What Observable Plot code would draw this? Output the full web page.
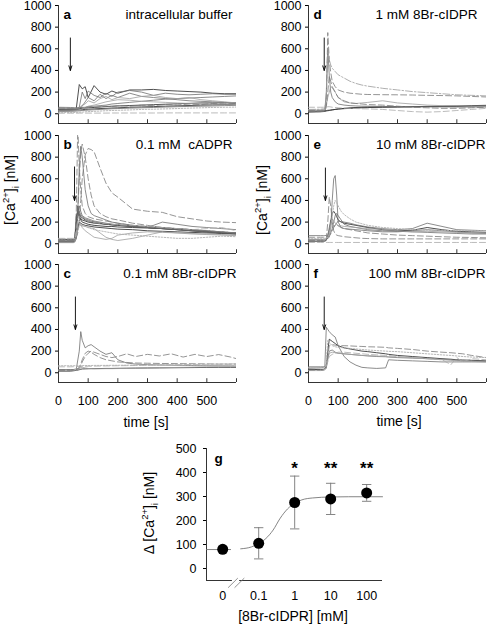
<!DOCTYPE html>
<html><head><meta charset="utf-8">
<script src="https://cdn.jsdelivr.net/npm/d3@7"></script>
<script src="https://cdn.jsdelivr.net/npm/@observablehq/plot@0.6"></script>
<style>
body{margin:0;background:#fff;}
#root{position:relative;width:488px;height:624px;font-family:"Liberation Sans",Arial,sans-serif;font-size:14px;color:#000;overflow:hidden;background:#fff}
.panel{position:absolute}
.lbl{position:absolute;white-space:nowrap;line-height:1;transform:translate(-50%,-50%)}
.rot{transform:translate(-50%,-50%) rotate(-90deg)}
sup,sub{font-size:9.5px;line-height:0}
</style></head><body><div id="root"></div><script>
// ---------- data: Ca2+ traces ----------
const timeTicks = [100,200,300,400,500,600];
const timeLabels = [0,100,200,300,400,500];
const caTicks = [0,200,400,600,800,1000];
const panelLetters = ["a","b","c","d","e","f"];
const panelTitles = ["intracellular buffer","0.1 mM  cADPR","0.1 mM 8Br-cIDPR","1 mM 8Br-cIDPR","10 mM 8Br-cIDPR","100 mM 8Br-cIDPR"];
const arrowTimes = [40,54,57,53,57,53];
const arrowTop = [700,710,700,700,700,700];
const arrowTip = [400,400,400,400,400,400];

// panel a
const tA = [0,40,60,70,80,90,100,120,140,160,180,200,240,280,320,360,400,440,480,520,560,600];
const a1 = [45,45,50,270,230,250,150,260,200,180,210,190,220,220,225,215,210,205,200,190,185,185];
const a2 = [35,38,40,60,200,140,210,170,150,190,160,200,215,200,170,190,180,175,180,185,180,180];
const a3 = [30,30,35,45,70,110,150,120,180,140,170,150,190,160,150,140,130,120,115,110,105,100];
const a4 = [50,48,50,55,80,90,120,100,140,160,130,150,140,160,170,150,140,150,130,120,110,100];
const a5 = [40,42,45,47,50,52,55,58,62,66,70,72,76,80,84,88,92,96,100,100,100,100];
const a6 = [30,32,34,36,38,40,42,45,48,50,53,55,60,63,66,70,73,76,80,82,85,88];
const a7 = [20,22,25,27,30,32,34,37,40,43,46,48,52,55,58,62,65,68,70,72,75,78];
const a8 = [55,50,52,55,60,58,62,60,65,70,65,75,70,80,75,85,80,90,85,95,90,95];
const a9 = [5,5,5,6,6,6,6,6,6,6,7,7,7,7,7,8,8,8,8,8,8,8];
const a10 = [25,25,28,35,45,55,70,80,95,110,120,130,125,115,110,105,100,95,90,90,85,85];
const a11 = [10,12,12,15,15,18,20,22,25,28,30,32,35,40,42,45,48,52,55,58,60,62];
const a12 = [60,58,55,55,58,60,65,70,75,80,90,95,105,115,125,135,140,145,150,155,160,165];

// panel b
const tB = [0,40,50,55,60,65,70,75,80,90,100,110,120,140,160,180,200,250,300,350,400,450,500,550,600];
const b1 = [30,30,30,40,300,1100,700,500,350,280,250,240,230,220,210,200,190,170,160,150,140,130,120,110,100];
const b2 = [25,25,25,30,100,300,600,850,920,800,600,450,350,280,250,230,220,190,170,150,140,130,120,110,100];
const b3 = [40,40,40,40,60,100,200,400,600,820,880,870,850,700,560,470,430,320,300,290,250,230,210,200,195];
const b4 = [20,20,20,25,80,300,700,900,800,500,350,280,260,240,220,200,190,170,150,140,130,120,110,100,95];
const b5 = [30,30,30,35,150,350,280,250,240,220,210,200,200,190,180,175,170,160,150,140,130,120,110,100,90];
const b6 = [40,40,40,45,200,300,260,230,220,210,200,195,190,185,180,175,170,160,150,140,135,125,115,105,100];
const b7 = [20,20,20,25,100,250,300,270,250,230,220,210,200,190,185,180,175,165,155,145,140,130,120,110,100];
const b8 = [10,10,10,15,60,200,220,180,150,120,100,80,60,50,40,50,80,100,110,105,100,95,90,85,80];
const b9 = [50,50,50,55,120,230,250,240,230,220,210,200,195,190,185,180,175,170,160,150,140,130,140,150,120];
const b10 = [15,15,15,20,50,150,200,190,180,170,165,160,155,150,145,140,135,130,120,115,110,105,100,95,90];
const b11 = [30,30,30,35,100,200,180,170,165,160,150,145,140,100,60,40,30,50,80,110,100,90,85,80,75];
const b12 = [35,35,35,40,250,300,250,220,200,190,180,175,170,165,160,160,155,150,145,140,130,120,110,100,95];
const b13 = [45,45,45,50,80,120,160,180,170,160,150,140,130,120,110,100,90,80,70,60,50,50,60,70,65];
const b14 = [20,20,20,25,60,250,350,300,260,240,230,220,210,200,190,180,175,160,150,200,180,160,150,140,130];

// panel c
const tC = [0,40,50,60,70,75,80,90,100,110,120,140,160,180,200,230,260,300,340,380,420,460,500,540,580,600];
const c1 = [30,30,30,35,200,380,300,230,250,260,240,200,170,185,120,90,80,75,72,70,68,66,65,64,63,62];
const c2 = [25,25,25,30,40,60,100,150,180,200,190,170,150,140,150,175,150,170,155,175,145,170,150,168,145,130];
const c3 = [25,25,28,30,50,80,120,180,200,190,170,140,120,110,100,95,90,88,86,85,84,83,82,80,80,80];
const c4 = [65,65,65,65,66,66,66,67,67,67,68,68,68,69,69,70,70,70,70,70,70,70,70,70,70,70];
const c5 = [15,15,18,22,28,32,35,36,37,38,38,39,40,40,41,42,43,44,45,46,47,48,49,50,50,50];
const c6 = [20,20,22,25,35,45,50,45,40,38,37,37,38,38,39,40,42,44,46,48,50,52,54,55,56,56];
const c7 = [55,55,56,57,58,58,58,59,60,60,61,62,63,64,65,66,67,69,71,73,75,77,79,81,82,83];

// panel d
const tD = [0,40,50,55,60,65,70,75,80,90,100,120,140,160,180,200,250,300,350,400,450,500,550,600];
const d1 = [30,32,35,40,100,750,500,380,300,250,220,200,190,185,180,178,176,175,173,170,168,165,160,155];
const d2 = [40,42,45,50,150,600,500,450,420,390,360,330,300,280,265,255,235,220,205,195,185,175,170,165];
const d3 = [25,25,28,30,200,600,350,200,150,110,90,80,75,72,70,70,68,66,65,64,63,62,62,62];
const d4 = [20,20,22,25,60,200,350,300,250,200,150,120,100,95,90,85,80,70,60,55,50,50,55,60];
const d5 = [35,35,35,40,80,150,200,250,240,200,150,110,100,95,100,105,120,100,90,80,75,75,70,70];
const d6 = [15,18,20,22,25,28,30,32,35,40,45,50,55,58,60,62,63,64,65,66,67,68,70,72];
const d7 = [25,25,27,28,30,32,33,35,37,40,43,47,50,53,55,57,60,62,65,68,70,72,75,78];
const d8 = [60,60,60,60,62,65,65,63,60,58,55,52,50,48,46,45,40,30,20,15,20,30,40,50];

// panel e
const tE = [0,40,50,55,60,65,70,75,80,85,90,95,100,110,120,140,160,180,200,250,300,350,400,450,500,550,600];
const e1 = [40,40,40,42,45,50,60,150,400,600,630,450,200,150,140,135,130,125,120,110,110,120,130,120,110,100,95];
const e2 = [30,30,30,32,40,200,430,350,200,120,90,80,75,70,65,60,55,50,48,45,45,45,45,45,45,45,45];
const e3 = [50,50,50,52,55,60,80,150,250,350,400,380,350,300,270,230,200,185,170,150,140,130,125,125,120,120,120];
const e4 = [25,25,25,28,35,60,120,200,280,300,280,250,220,200,190,180,170,160,150,130,120,125,150,130,115,110,105];
const e5 = [20,20,20,22,30,80,150,220,180,160,170,190,210,205,200,190,175,165,155,140,130,140,190,160,130,125,120];
const e6 = [35,35,35,38,45,60,100,180,230,210,190,180,170,165,160,155,150,145,140,135,120,110,115,110,105,100,100];
const e7 = [12,12,12,12,12,12,12,12,12,12,12,12,12,12,12,12,12,12,12,12,12,12,12,12,12,12,12];
const e8 = [75,75,75,75,78,80,82,100,140,200,260,280,260,220,180,160,150,140,130,120,115,110,105,100,95,90,90];
const e9 = [60,60,60,60,62,64,70,90,120,150,170,175,165,150,140,130,120,110,100,90,80,75,70,65,60,58,55];

// panel f
const tF = [0,40,50,55,60,65,70,80,90,100,120,140,160,180,200,230,260,270,300,350,400,450,480,500,520,550,600];
const f1 = [40,45,50,55,420,400,380,350,330,250,150,100,70,50,45,40,45,120,115,110,105,100,100,100,100,100,100];
const f2 = [30,30,32,35,60,200,310,290,270,250,230,220,210,200,195,185,175,170,160,150,140,130,125,120,118,115,110];
const f3 = [25,25,25,28,40,150,250,260,255,250,250,248,245,243,240,238,235,230,225,215,200,190,185,180,175,160,140];
const f4 = [50,50,50,52,100,300,280,250,240,235,230,225,220,215,210,205,200,198,195,185,175,165,160,155,150,145,140];
const f5 = [20,20,22,25,50,120,180,190,185,180,175,170,165,160,158,155,150,148,145,140,130,120,115,110,110,105,100];
const f6 = [45,45,45,48,60,100,150,170,180,190,190,185,180,175,170,165,160,160,150,140,130,120,75,140,100,130,120];
const f7 = [55,55,55,58,70,130,200,210,190,180,175,170,165,160,155,150,148,145,140,135,130,125,120,115,110,110,105];

// ---------- data: dose response (g) ----------
const gLabels = ["0","0.1","1","10","100"];
const gMean = [80,105,275,290,315];
const gLow = [70,40,165,225,280];
const gHigh = [90,170,385,355,350];
const gStars = ["","","*","**","**"];
const gStarLevel = [430,430,430,430,430];
const fitLeftPos = [-0.45,0.22];
const fitLeftVal = [79,79];
const fitRightPos = [0.5,0.8,1.0,1.2,1.4,1.6,1.8,2.0,2.2,2.5,3.0,3.5,4.44];
const fitRightVal = [82,90,104,125,160,210,248,272,286,294,298,299,299];

// ---------- styles (kept apart from data) ----------
const lineStyles = {
  dark: {stroke:"#3a3a3a", strokeWidth:0.9},
  mid: {stroke:"#6e6e6e", strokeWidth:0.8},
  light: {stroke:"#a0a0a0", strokeWidth:0.8},
  dash: {stroke:"#7a7a7a", strokeWidth:0.8, strokeDasharray:"6,3"},
  dashLight: {stroke:"#aaaaaa", strokeWidth:0.8, strokeDasharray:"6,3"},
  dot: {stroke:"#b0b0b0", strokeWidth:0.9, strokeDasharray:"1.5,1.5"},
  dashDot: {stroke:"#9a9a9a", strokeWidth:0.8, strokeDasharray:"7,2,1.5,2"}
};
const traceStyle = {
  a1:"dark",a2:"mid",a3:"mid",a4:"light",a5:"dark",a6:"dark",a7:"mid",a8:"dash",a9:"dashLight",a10:"light",a11:"dot",a12:"mid",
  b1:"dash",b2:"dash",b3:"dash",b4:"mid",b5:"dark",b6:"dark",b7:"mid",b8:"light",b9:"dashLight",b10:"dark",b11:"light",b12:"dark",b13:"dot",b14:"mid",
  c1:"mid",c2:"dash",c3:"dash",c4:"dot",c5:"dark",c6:"light",c7:"dashLight",
  d1:"dash",d2:"dashDot",d3:"mid",d4:"dash",d5:"light",d6:"dark",d7:"dark",d8:"dashLight",
  e1:"mid",e2:"dash",e3:"dot",e4:"dark",e5:"mid",e6:"light",e7:"dashLight",e8:"mid",e9:"dash",
  f1:"mid",f2:"dark",f3:"dash",f4:"dot",f5:"light",f6:"dashLight",f7:"mid"
};
const TICK_PX = 12.5, TITLE_PX = 13.5, STAR_PX = 17;

const panels = [
  {t:tA, series:{a1,a2,a3,a4,a5,a6,a7,a8,a9,a10,a11,a12}},
  {t:tB, series:{b1,b2,b3,b4,b5,b6,b7,b8,b9,b10,b11,b12,b13,b14}},
  {t:tC, series:{c1,c2,c3,c4,c5,c6,c7}},
  {t:tD, series:{d1,d2,d3,d4,d5,d6,d7,d8}},
  {t:tE, series:{e1,e2,e3,e4,e5,e6,e7,e8,e9}},
  {t:tF, series:{f1,f2,f3,f4,f5,f6,f7}}
];
const layout = [
  {left:0, top:0, width:244, bottomLabels:false, titleDx:-4},
  {left:0, top:130, width:244, bottomLabels:false, titleDx:-4},
  {left:0, top:259, width:244, bottomLabels:true, titleDx:0},
  {left:250, top:0, width:238, bottomLabels:false, titleDx:-9},
  {left:250, top:130, width:238, bottomLabels:false, titleDx:-1},
  {left:250, top:259, width:238, bottomLabels:true, titleDx:-1}
];

const FONT = '"Liberation Sans", Arial, sans-serif';
const root = document.getElementById("root");

function fixText(svg) {
  svg.querySelectorAll("text").forEach(el => {
    const s = el.textContent;
    let size = TICK_PX, weight = "normal";
    if (panelTitles.includes(s)) size = TITLE_PX;
    else if (panelLetters.includes(s) || s === "g") { size = TITLE_PX; weight = "bold"; }
    else if (s.startsWith("*")) { size = STAR_PX; weight = "bold"; }
    el.style.fontSize = size + "px";
    el.style.fontFamily = FONT;
    el.style.fontWeight = weight;
    el.style.fill = "#000";
  });
}

function place(node, left, top) {
  const div = document.createElement("div");
  div.className = "panel";
  div.style.left = left + "px";
  div.style.top = top + "px";
  div.appendChild(node);
  root.appendChild(div);
  fixText(node);
}

function tracePanel(i) {
  const p = panels[i], L = layout[i];
  const rows = [];
  for (const [id, vals] of Object.entries(p.series)) vals.forEach((v, k) => rows.push({id, t: p.t[k], v}));
  const marks = [
    Plot.ruleY([-90], {stroke:"#000", strokeWidth:0.8}),
    Plot.ruleX([0], {stroke:"#000", strokeWidth:0.8}),
    Plot.ruleX(timeTicks, {y1:-90, y2:-55, stroke:"#000", strokeWidth:0.8}),
    Plot.axisY({ticks: caTicks, tickFormat: d => String(d), tickSize: 3, tickPadding: 4, label: null})
  ];
  for (const [name, st] of Object.entries(lineStyles)) {
    const sub = rows.filter(r => traceStyle[r.id] === name);
    if (sub.length) marks.push(Plot.line(sub, {x:"t", y:"v", z:"id", clip:true, ...st}));
  }
  marks.push(Plot.arrow([0], {x1: () => arrowTimes[i], x2: () => arrowTimes[i], y1: () => arrowTop[i], y2: () => arrowTip[i], stroke:"#000", strokeWidth:0.9, headLength:8, headAngle:36}));
  marks.push(Plot.text([panelTitles[i]], {frameAnchor:"top-right", dx: L.titleDx, dy: 9, lineAnchor:"middle"}));
  marks.push(Plot.text([panelLetters[i]], {frameAnchor:"top-left", dx: 5, dy: 9, lineAnchor:"middle"}));
  if (L.bottomLabels) marks.push(Plot.axisX({ticks: timeLabels, tickFormat: d => String(d), tickSize: 0, tickPadding: 14, label: null}));
  const chart = Plot.plot({
    width: L.width,
    height: L.bottomLabels ? 168 : 130,
    marginTop: 5,
    marginBottom: L.bottomLabels ? 45 : 7,
    marginLeft: 58,
    marginRight: L.width - 58 - 178,
    x: {domain:[0,600], axis: L.bottomLabels ? undefined : null},
    y: {domain:[-90,1000]},
    style: {fontFamily: FONT, overflow: "visible", background: "transparent", color: "#000"},
    marks
  });
  place(chart, L.left, L.top);
}
for (let i = 0; i < 6; i++) tracePanel(i);

// dose-response panel g
const gData = gLabels.map((lab, i) => ({pos: i, mean: gMean[i], lo: gLow[i], hi: gHigh[i], star: gStars[i], sy: gStarLevel[i]}));
const fitLeft = fitLeftPos.map((p, i) => ({pos: p, v: fitLeftVal[i]}));
const fitRight = fitRightPos.map((p, i) => ({pos: p, v: fitRightVal[i]}));
const breakMarks = [{x1:0.15, x2:0.42}, {x1:0.33, x2:0.60}];
const gChart = Plot.plot({
  width: 488, height: 186,
  marginTop: 10, marginBottom: 44, marginLeft: 206, marginRight: 106,
  x: {domain:[-0.45, 4.44]},
  y: {domain:[-50, 500]},
  style: {fontFamily: FONT, overflow: "visible", background: "transparent", color: "#000"},
  marks: [
    Plot.ruleX([-0.45], {stroke:"#000", strokeWidth:0.8}),
    Plot.ruleY([-50], {x1:-0.45, x2:0.27, stroke:"#000", strokeWidth:0.8}),
    Plot.ruleY([-50], {x1:0.47, x2:4.44, stroke:"#000", strokeWidth:0.8}),
    Plot.link(breakMarks, {x1:"x1", x2:"x2", y1:-80, y2:-40, stroke:"#777", strokeWidth:0.8}),
    Plot.axisY({ticks:[0,100,200,300,400,500], tickFormat: d => String(d), tickSize:3, tickPadding:7, label:null}),
    Plot.axisX({ticks:[0,1,2,3,4], tickFormat: i => gLabels[i], tickSize:0, tickPadding:11, label:null}),
    Plot.line(fitLeft, {x:"pos", y:"v", stroke:"#777", strokeWidth:0.9}),
    Plot.line(fitRight, {x:"pos", y:"v", stroke:"#777", strokeWidth:0.9, curve:"monotone-x"}),
    Plot.ruleX(gData, {x:"pos", y1:"lo", y2:"hi", stroke:"#777", strokeWidth:0.9}),
    Plot.link(gData, {x1: d => d.pos - 0.13, x2: d => d.pos + 0.13, y1:"lo", y2:"lo", stroke:"#777", strokeWidth:0.9}),
    Plot.link(gData, {x1: d => d.pos - 0.13, x2: d => d.pos + 0.13, y1:"hi", y2:"hi", stroke:"#777", strokeWidth:0.9}),
    Plot.dot(gData, {x:"pos", y:"mean", r:5.5, fill:"#000", stroke:"none"}),
    Plot.text(gData, {x:"pos", y:"sy", text:"star", lineAnchor:"middle", dy:3}),
    Plot.text(["g"], {frameAnchor:"top-left", dx:8, dy:10, lineAnchor:"middle"})
  ]
});
place(gChart, 0, 438);

// axis titles (HTML text)
function label(html, x, y, rotate) {
  const d = document.createElement("div");
  d.className = "lbl" + (rotate ? " rot" : "");
  d.style.left = x + "px";
  d.style.top = y + "px";
  d.innerHTML = html;
  root.appendChild(d);
}
const caLabel = "[Ca<sup>2+</sup>]<sub>i</sub> [nM]";
label(caLabel, 10, 190, true);
label(caLabel, 262, 200, true);
label("time [s]", 146, 422, false);
label("time [s]", 399, 421, false);
label("&Delta; " + caLabel, 149, 513, true);
label("[8Br-cIDPR] [mM]", 293, 616, false);
</script></body></html>
